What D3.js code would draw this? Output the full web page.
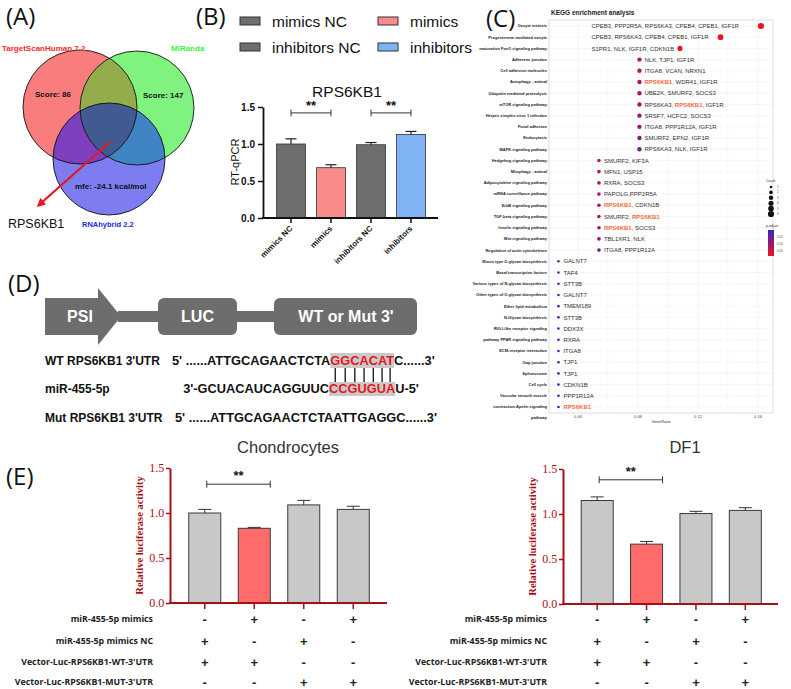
<!DOCTYPE html>
<html>
<head>
<meta charset="utf-8">
<script src="https://cdn.jsdelivr.net/npm/d3@7"></script>
<style>
body { margin: 0; background: #fff; }
text { font-family: "Liberation Sans", Arial, sans-serif; }
</style>
</head>
<body>
<script>
// ---------------- data ----------------
// (A) venn
const vennSets = ['TargetScanHuman 7.2', 'MiRanda', 'RNAhybrid 2.2'];
const vennScores = ['Score: 86', 'Score: 147', 'mfe: -24.1 kcal/mol'];
const vennTarget = 'RPS6KB1';

// (B) RT-qPCR
const qpcrGroups = ['mimics NC', 'mimics', 'inhibitors NC', 'inhibitors'];
const qpcrMean = [1.00, 0.68, 0.99, 1.13];
const qpcrErr = [0.07, 0.04, 0.03, 0.04];
const qpcrColors = ['#6e6e6e', '#f98b8b', '#6e6e6e', '#7fb3f3'];
const qpcrTicks = [0, 0.5, 1.0, 1.5];

// (C) KEGG
const keggPathways = [
  'Oocyte meiosis', 'Progesterone-mediated oocyte', 'maturation FoxO signaling pathway',
  'Adherens junction', 'Cell adhesion molecules', 'Autophagy - animal',
  'Ubiquitin mediated proteolysis', 'mTOR signaling pathway', 'Herpes simplex virus 1 infection',
  'Focal adhesion', 'Endocytosis', 'MAPK signaling pathway',
  'Hedgehog signaling pathway', 'Mitophagy - animal', 'Adipocytokine signaling pathway',
  'mRNA surveillance pathway', 'ErbB signaling pathway', 'TGF-beta signaling pathway',
  'Insulin signaling pathway', 'Wnt signaling pathway', 'Regulation of actin cytoskeleton',
  'Mucin type O-glycan biosynthesis', 'Basal transcription factors', 'Various types of N-glycan biosynthesis',
  'Other types of O-glycan biosynthesis', 'Ether lipid metabolism', 'N-Glycan biosynthesis',
  'RIG-I-like receptor signaling', 'pathway PPAR signaling pathway', 'ECM-receptor interaction',
  'Gap junction', 'Spliceosome', 'Cell cycle',
  'Vascular smooth muscle', 'contraction Apelin signaling'
];
const keggGenes = [
  'CPEB3, PPP2R5A, RPS6KA3, CPEB4, CPEB1, IGF1R', 'CPEB3, RPS6KA3, CPEB4, CPEB1, IGF1R', 'S1PR1, NLK, IGF1R, CDKN1B',
  'NLK, TJP1, IGF1R', 'ITGA8, VCAN, NRXN1', 'RPS6KB1, WDR41, IGF1R',
  'UBE2K, SMURF2, SOCS3', 'RPS6KA3, RPS6KB1, IGF1R', 'SRSF7, HCFC2, SOCS3',
  'ITGA8, PPP1R12A, IGF1R', 'SMURF2, EPN2, IGF1R', 'RPS6KA3, NLK, IGF1R',
  'SMURF2, KIF3A', 'MFN1, USP15', 'RXRA, SOCS3',
  'PAPOLG,PPP2R5A', 'RPS6KB1, CDKN1B', 'SMURF2, RPS6KB1',
  'RPS6KB1, SOCS3', 'TBL1XR1, NLK', 'ITGA8, PPP1R12A',
  'GALNT7', 'TAF4', 'STT3B', 'GALNT7', 'TMEM189', 'STT3B', 'DDX3X',
  'RXRA', 'ITGA8', 'TJP1', 'TJP1', 'CDKN1B', 'PPP1R12A', 'RPS6KB1'
];
const keggCount = [6, 5, 4, 3, 3, 3, 3, 3, 3, 3, 3, 3, 2, 2, 2, 2, 2, 2, 2, 2, 2,
  1, 1, 1, 1, 1, 1, 1, 1, 1, 1, 1, 1, 1, 1];
const keggRatio = [0.162, 0.135, 0.108, 0.081, 0.081, 0.081, 0.081, 0.081, 0.081, 0.081, 0.081, 0.081,
  0.054, 0.054, 0.054, 0.054, 0.054, 0.054, 0.054, 0.054, 0.054,
  0.027, 0.027, 0.027, 0.027, 0.027, 0.027, 0.027, 0.027, 0.027, 0.027, 0.027, 0.027, 0.027, 0.027];
const keggPadj = [0.01, 0.012, 0.015, 0.07, 0.075, 0.08, 0.085, 0.09, 0.095, 0.10, 0.115, 0.13,
  0.065, 0.07, 0.075, 0.08, 0.085, 0.09, 0.10, 0.12, 0.14,
  0.15, 0.155, 0.16, 0.165, 0.17, 0.175, 0.18, 0.185, 0.19, 0.19, 0.195, 0.2, 0.2, 0.2];
const keggTicks = [0.04, 0.08, 0.12, 0.16];
const keggCountLegend = [1, 2, 3, 4, 5, 6];
const keggPadjLegend = [0.05, 0.10, 0.15];

// (D) construct + sequences
const constructParts = ['PSI', 'LUC', "WT or Mut 3'"];
const seqNames = ["WT RPS6KB1 3'UTR", 'miR-455-5p', "Mut RPS6KB1 3'UTR"];
const wtSeq = ["5' ......ATTGCAGAACTCTA", 'GGCACAT', "C......3'"];
const mirSeq = ["3'-GCUACAUCAGGUUC", 'CCGUGUA', "U-5'"];
const mutSeq = "5' ......ATTGCAGAACTCTAATTGAGGC......3'";

// (E) luciferase
const lucRows = ['miR-455-5p mimics', 'miR-455-5p mimics NC', "Vector-Luc-RPS6KB1-WT-3'UTR", "Vector-Luc-RPS6KB1-MUT-3'UTR"];
const lucSigns = [['-', '+', '-', '+'], ['+', '-', '+', '-'], ['+', '+', '-', '-'], ['-', '-', '+', '+']];
const chondroMean = [1.00, 0.83, 1.09, 1.04];
const chondroErr = [0.04, 0.01, 0.05, 0.035];
const df1Mean = [1.15, 0.665, 1.005, 1.04];
const df1Err = [0.04, 0.03, 0.025, 0.03];
const lucColors = ['#c8c8c8', '#ff6b6b', '#c8c8c8', '#c8c8c8'];
const lucTicks = [0, 0.5, 1.0, 1.5];

// ---------------- svg ----------------
const svg = d3.select('body').append('svg').attr('width', 791).attr('height', 689);
const defs = svg.append('defs');

function panelLabel(t, x, y) {
  svg.append('text').attr('x', x).attr('y', y).text(t)
    .style('font-family', '"Open Sans", sans-serif').style('font-size', '24px').attr('fill', '#111');
}
panelLabel('(A)', 6, 25);
panelLabel('(B)', 196, 25);
panelLabel('(C)', 486, 27);
panelLabel('(D)', 8, 292);
panelLabel('(E)', 6, 485);

// ---------------- (A) venn ----------------
const vennCircles = [{ cx: 80, cy: 107, r: 57 }, { cx: 137, cy: 108, r: 57 }, { cx: 109, cy: 159, r: 56 }];
const vennFill = ['#fa7d7d', '#80f27f', '#7d7cf0'];
vennCircles.forEach((c, i) => {
  defs.append('clipPath').attr('id', 'vc' + i).append('circle').attr('cx', c.cx).attr('cy', c.cy).attr('r', c.r);
});
const gA = svg.append('g');
vennCircles.forEach((c, i) => gA.append('circle').attr('cx', c.cx).attr('cy', c.cy).attr('r', c.r).attr('fill', vennFill[i]));
function clipped(clipIdx, circIdx, fill) {
  gA.append('g').attr('clip-path', `url(#vc${clipIdx})`)
    .append('circle').attr('cx', vennCircles[circIdx].cx).attr('cy', vennCircles[circIdx].cy)
    .attr('r', vennCircles[circIdx].r).attr('fill', fill);
}
clipped(0, 1, '#93ad4c');
clipped(0, 2, '#7e3fbf');
clipped(1, 2, '#3f85c4');
gA.append('g').attr('clip-path', 'url(#vc0)').append('g').attr('clip-path', 'url(#vc1)')
  .append('circle').attr('cx', vennCircles[2].cx).attr('cy', vennCircles[2].cy).attr('r', vennCircles[2].r).attr('fill', '#415b90');
vennCircles.forEach(c => gA.append('circle').attr('cx', c.cx).attr('cy', c.cy).attr('r', c.r)
  .attr('fill', 'none').attr('stroke', '#111').attr('stroke-width', 0.9));

const vennTxt = (t, x, y, col, size) => gA.append('text').attr('x', x).attr('y', y).text(t)
  .attr('fill', col).style('font-size', size + 'px').style('font-weight', 'bold');
vennTxt(vennSets[0], 2, 51, '#f42a2a', 8);
vennTxt(vennSets[1], 171, 51, '#3ef03e', 8);
vennTxt(vennSets[2], 82, 227, '#2424e0', 7.5);
vennTxt(vennScores[0], 35, 97, '#111', 8);
vennTxt(vennScores[1], 143, 98, '#111', 8);
vennTxt(vennScores[2], 75, 189, '#111', 8);
gA.append('text').attr('x', 8).attr('y', 228).text(vennTarget).attr('fill', '#111').style('font-size', '12.5px');

defs.append('marker').attr('id', 'arrowR').attr('viewBox', '0 0 10 10').attr('refX', 5).attr('refY', 5)
  .attr('markerWidth', 4).attr('markerHeight', 4).attr('orient', 'auto')
  .append('path').attr('d', 'M0,0L10,5L0,10z').attr('fill', '#e8161c');
gA.append('line').attr('x1', 110).attr('y1', 142).attr('x2', 40).attr('y2', 204)
  .attr('stroke', '#e8161c').attr('stroke-width', 2.2).attr('marker-end', 'url(#arrowR)');

// ---------------- (B) RT-qPCR ----------------
const gB = svg.append('g');
const legB = [[0, 240, 27], [1, 378, 27], [2, 240, 53], [3, 378, 53]];
legB.forEach(([i, x, y]) => {
  gB.append('rect').attr('x', x).attr('y', y - 10).attr('width', 20).attr('height', 8)
    .attr('fill', qpcrColors[i]).attr('stroke', '#333').attr('stroke-width', 1);
  gB.append('text').attr('x', x + 32).attr('y', y).text(qpcrGroups[i]).style('font-size', '15.5px').attr('fill', '#111');
});
gB.append('text').attr('x', 347).attr('y', 97).attr('text-anchor', 'middle').text('RPS6KB1')
  .style('font-size', '15.5px').attr('fill', '#111');

const xB = d3.scaleBand().domain(d3.range(qpcrGroups.length)).range([271, 431]);
const yB = d3.scaleLinear().domain([0, 1.5]).range([218, 107]);
const bwB = 29;
gB.selectAll('.barB').data(qpcrMean).join('rect').attr('class', 'barB')
  .attr('x', (d, i) => xB(i) + xB.bandwidth() / 2 - bwB / 2).attr('width', bwB)
  .attr('y', d => yB(d)).attr('height', d => yB(0) - yB(d))
  .attr('fill', (d, i) => qpcrColors[i]).attr('stroke', '#333').attr('stroke-width', 0.8);
qpcrMean.forEach((m, i) => {
  const cx = xB(i) + xB.bandwidth() / 2;
  gB.append('line').attr('x1', cx).attr('x2', cx).attr('y1', yB(m)).attr('y2', yB(m + qpcrErr[i])).attr('stroke', '#222').attr('stroke-width', 1.2);
  gB.append('line').attr('x1', cx - 5.5).attr('x2', cx + 5.5).attr('y1', yB(m + qpcrErr[i])).attr('y2', yB(m + qpcrErr[i])).attr('stroke', '#222').attr('stroke-width', 1.2);
});
const axB = gB.append('g').attr('transform', 'translate(263,0)')
  .call(d3.axisLeft(yB).tickValues(qpcrTicks).tickFormat(d3.format('.1f')).tickSize(5).tickSizeOuter(0));
axB.select('.domain').attr('stroke', '#111').attr('stroke-width', 1.8);
axB.selectAll('.tick line').attr('stroke', '#111').attr('stroke-width', 1.5);
axB.selectAll('text').style('font-size', '10px').style('font-weight', 'bold').attr('fill', '#111')
  .style('font-family', '"Liberation Sans", Arial, sans-serif');
gB.append('line').attr('x1', 262).attr('x2', 438).attr('y1', 218).attr('y2', 218).attr('stroke', '#111').attr('stroke-width', 1.8);
qpcrGroups.forEach((g, i) => {
  const cx = xB(i) + xB.bandwidth() / 2;
  gB.append('line').attr('x1', cx).attr('x2', cx).attr('y1', 218).attr('y2', 223).attr('stroke', '#111').attr('stroke-width', 1.5);
  gB.append('text').attr('transform', `translate(${cx + 2},${229}) rotate(-45)`).attr('text-anchor', 'end')
    .text(g).style('font-size', '8px').style('font-weight', 'bold').attr('fill', '#111');
});
gB.append('text').attr('transform', 'translate(239,162) rotate(-90)').attr('text-anchor', 'middle')
  .text('RT-qPCR').style('font-size', '11px').attr('fill', '#111');
function sigBracket(g, x1, x2, y, starY, col) {
  g.append('line').attr('x1', x1).attr('x2', x2).attr('y1', y).attr('y2', y).attr('stroke', col).attr('stroke-width', 1);
  g.append('line').attr('x1', x1).attr('x2', x1).attr('y1', y - 3.5).attr('y2', y + 3.5).attr('stroke', col).attr('stroke-width', 1);
  g.append('line').attr('x1', x2).attr('x2', x2).attr('y1', y - 3.5).attr('y2', y + 3.5).attr('stroke', col).attr('stroke-width', 1);
  g.append('text').attr('x', (x1 + x2) / 2).attr('y', starY).attr('text-anchor', 'middle').text('**')
    .style('font-size', '13px').style('font-weight', 'bold').attr('fill', '#111');
}
sigBracket(gB, xB(0) + xB.bandwidth() / 2, xB(1) + xB.bandwidth() / 2, yB(1.42), yB(1.42) - 3, '#333');
sigBracket(gB, xB(2) + xB.bandwidth() / 2, xB(3) + xB.bandwidth() / 2, yB(1.42), yB(1.42) - 3, '#333');

// ---------------- (C) KEGG dot plot ----------------
const gC = svg.append('g');
const xC = d3.scaleLinear().domain([0.0207, 0.17]).range([549, 773]);
const yC = d3.scalePoint().domain(d3.range(keggPathways.length)).range([26, 407]);
const rC = d3.scaleSqrt().domain([1, 6]).range([1.3, 3.1]);
const colC = d3.scaleLinear().domain([0.01, 0.2]).range(['#ee1320', '#3a22c8']).interpolate(d3.interpolateRgb);

gC.append('text').attr('x', 551).attr('y', 15).text('KEGG enrichment analysis')
  .style('font-size', '6.5px').style('font-weight', 'bold').attr('fill', '#222');
gC.append('rect').attr('x', 549).attr('y', 20).attr('width', 224).attr('height', 393)
  .attr('fill', '#fff').attr('stroke', '#cfcfcf').attr('stroke-width', 0.7);
const minorC = [0.02, 0.06, 0.10, 0.14];
minorC.concat(keggTicks).forEach(t => {
  if (xC(t) < 549) return;
  gC.append('line').attr('x1', xC(t)).attr('x2', xC(t)).attr('y1', 20).attr('y2', 413)
    .attr('stroke', '#f0f0f0').attr('stroke-width', keggTicks.includes(t) ? 0.7 : 0.4);
});
keggPathways.forEach((p, i) => {
  gC.append('line').attr('x1', 549).attr('x2', 773).attr('y1', yC(i)).attr('y2', yC(i))
    .attr('stroke', '#f0f0f0').attr('stroke-width', 0.6);
  gC.append('text').attr('x', 547).attr('y', yC(i)).attr('dy', '0.35em').attr('text-anchor', 'end')
    .text(p).style('font-size', '4px').style('font-weight', 'bold').attr('fill', '#222');
});
gC.append('text').attr('x', 547).attr('y', 419).attr('text-anchor', 'end').text('pathway')
  .style('font-size', '4px').style('font-weight', 'bold').attr('fill', '#222');
gC.selectAll('.dotC').data(keggRatio).join('circle').attr('class', 'dotC')
  .attr('cx', d => xC(d)).attr('cy', (d, i) => yC(i))
  .attr('r', (d, i) => rC(keggCount[i])).attr('fill', (d, i) => colC(keggPadj[i]));
keggGenes.forEach((g, i) => {
  const tx = keggCount[i] >= 4 ? xC(0.049) : xC(keggRatio[i]) + 5;
  const t = gC.append('text').attr('x', tx).attr('y', yC(i)).attr('dy', '0.36em')
    .style('font-size', '6px').attr('fill', '#333');
  g.split(/(RPS6KB1)/).filter(s => s.length).forEach(s => {
    const ts = t.append('tspan').text(s);
    if (s === 'RPS6KB1') ts.attr('fill', '#f36a3c').style('font-weight', 'bold');
  });
});
keggTicks.forEach(t => {
  gC.append('text').attr('x', xC(t)).attr('y', 418).attr('text-anchor', 'middle').text(t.toFixed(2))
    .style('font-size', '4px').attr('fill', '#444');
});
gC.append('text').attr('x', 661).attr('y', 423).attr('text-anchor', 'middle').text('GeneRatio')
  .style('font-size', '4px').attr('fill', '#333');
// legends
gC.append('text').attr('x', 766).attr('y', 182).text('Count').style('font-size', '3.5px').attr('fill', '#333');
keggCountLegend.forEach((c, i) => {
  const cy = 187 + i * 5.4;
  gC.append('circle').attr('cx', 771).attr('cy', cy).attr('r', rC(c)).attr('fill', '#111');
  gC.append('text').attr('x', 777).attr('y', cy).attr('dy', '0.35em').text(c).style('font-size', '3px').attr('fill', '#444');
});
gC.append('text').attr('x', 766).attr('y', 227).text('p.adjust').style('font-size', '3.5px').attr('fill', '#333');
const grad = defs.append('linearGradient').attr('id', 'padjGrad').attr('x1', 0).attr('x2', 0).attr('y1', 0).attr('y2', 1);
grad.append('stop').attr('offset', '0%').attr('stop-color', colC(0.2));
grad.append('stop').attr('offset', '100%').attr('stop-color', colC(0.01));
gC.append('rect').attr('x', 768).attr('y', 230).attr('width', 6).attr('height', 26).attr('fill', 'url(#padjGrad)');
const yLeg = d3.scaleLinear().domain([0.01, 0.2]).range([256, 230]);
keggPadjLegend.forEach(v => {
  gC.append('text').attr('x', 777).attr('y', yLeg(v)).attr('dy', '0.35em').text(v.toFixed(2))
    .style('font-size', '3px').attr('fill', '#444');
});

// ---------------- (D) construct + sequences ----------------
const gD = svg.append('g');
const boxCol = '#6d6d6d';
gD.append('path').attr('d', 'M45,298 L98,298 L98,288 L121,316.5 L98,345 L98,335 L45,335 Z').attr('fill', boxCol);
gD.append('rect').attr('x', 118).attr('y', 311).attr('width', 160).attr('height', 11).attr('fill', boxCol);
gD.append('rect').attr('x', 158).attr('y', 298).attr('width', 79).attr('height', 37).attr('rx', 6).attr('fill', boxCol);
gD.append('rect').attr('x', 274).attr('y', 298).attr('width', 143).attr('height', 37).attr('rx', 6).attr('fill', boxCol);
[[80, 0], [197.5, 1], [346, 2]].forEach(([x, i]) => {
  gD.append('text').attr('x', x).attr('y', 322).attr('text-anchor', 'middle').text(constructParts[i])
    .attr('fill', '#fff').style('font-size', '16px').style('font-weight', 'bold');
});
const seqBase = [365, 393, 422];
seqNames.forEach((n, i) => {
  gD.append('text').attr('x', 45).attr('y', seqBase[i]).text(n)
    .style('font-size', '12px').style('font-weight', 'bold').attr('fill', '#111');
});
const seqFont = 12.8;
function seqText(parts, x, y) {
  const t = gD.append('text').attr('x', x).attr('y', y)
    .style('font-size', seqFont + 'px').style('font-weight', 'bold').attr('fill', '#111');
  parts.forEach((p, k) => {
    const ts = t.append('tspan').text(p);
    if (k === 1) ts.attr('fill', '#e8161c');
  });
  return t;
}
const bgLayer = gD.insert('g', ':first-child');
const wt = seqText(wtSeq, 172, seqBase[0]);
const wtNode = wt.node();
const hitStart = 172 + wtNode.getSubStringLength(0, wtSeq[0].length);
const hitW = wtNode.getSubStringLength(wtSeq[0].length, wtSeq[1].length);
bgLayer.append('rect').attr('x', hitStart).attr('y', seqBase[0] - 12).attr('width', hitW).attr('height', 15).attr('fill', '#c9c9c9');
const mir = seqText(mirSeq, 0, seqBase[1]);
const mirPre = mir.node().getSubStringLength(0, mirSeq[0].length);
const mirHitW = mir.node().getSubStringLength(mirSeq[0].length, mirSeq[1].length);
const mirX = hitStart - mirPre + (hitW - mirHitW) / 2;
mir.attr('x', mirX);
bgLayer.append('rect').attr('x', mirX + mirPre).attr('y', seqBase[1] - 11).attr('width', mirHitW).attr('height', 14).attr('fill', '#c9c9c9');
d3.range(wtSeq[1].length).forEach(k => {
  const idx = wtSeq[0].length + k;
  const cx = 172 + wtNode.getSubStringLength(0, idx) + wtNode.getSubStringLength(idx, 1) / 2;
  gD.append('line').attr('x1', cx).attr('x2', cx).attr('y1', 368).attr('y2', 382).attr('stroke', '#111').attr('stroke-width', 1.3);
});
seqText([mutSeq], 175, seqBase[2]);

// ---------------- (E) luciferase ----------------
function lucChart(o) {
  const g = svg.append('g');
  const red = '#a80f14';
  const x = d3.scaleBand().domain(d3.range(o.mean.length)).range(o.band);
  const y = d3.scaleLinear().domain([0, 1.5]).range([o.yBottom, o.yBottom - 135]);
  const bw = 32;
  const cx = i => x(i) + x.bandwidth() / 2;
  g.append('text').attr('x', o.titleX).attr('y', 453).attr('text-anchor', 'middle').text(o.title)
    .style('font-size', '16.5px').attr('fill', '#333');
  g.selectAll('rect').data(o.mean).join('rect')
    .attr('x', (d, i) => cx(i) - bw / 2).attr('width', bw)
    .attr('y', d => y(d)).attr('height', d => y(0) - y(d))
    .attr('fill', (d, i) => lucColors[i]).attr('stroke', '#3a3a3a').attr('stroke-width', 1);
  o.mean.forEach((m, i) => {
    g.append('line').attr('x1', cx(i)).attr('x2', cx(i)).attr('y1', y(m)).attr('y2', y(m + o.err[i])).attr('stroke', '#333').attr('stroke-width', 1);
    g.append('line').attr('x1', cx(i) - 6.5).attr('x2', cx(i) + 6.5).attr('y1', y(m + o.err[i])).attr('y2', y(m + o.err[i])).attr('stroke', '#333').attr('stroke-width', 1);
  });
  const ay = g.append('g').attr('transform', `translate(${o.axisX},0)`)
    .call(d3.axisLeft(y).tickValues(lucTicks).tickFormat(d3.format('.1f')).tickSize(4).tickSizeOuter(0));
  ay.select('.domain').attr('stroke', red).attr('stroke-width', 2);
  ay.selectAll('.tick line').attr('stroke', red).attr('stroke-width', 1.5);
  ay.selectAll('text').attr('fill', red).style('font-size', '12px')
    .style('font-family', '"Liberation Serif", "Times New Roman", serif').attr('dx', '0.1em');
  g.append('line').attr('x1', o.axisX - 1).attr('x2', o.axisEnd).attr('y1', y(0)).attr('y2', y(0)).attr('stroke', red).attr('stroke-width', 2);
  o.mean.forEach((m, i) => {
    g.append('line').attr('x1', cx(i)).attr('x2', cx(i)).attr('y1', y(0)).attr('y2', y(0) + 6).attr('stroke', red).attr('stroke-width', 1.5);
  });
  g.append('text').attr('transform', `translate(${o.ylabX},${y(0.75)}) rotate(-90)`).attr('text-anchor', 'middle')
    .text('Relative luciferase activity').attr('fill', red)
    .style('font-family', '"Liberation Serif", "Times New Roman", serif').style('font-size', '10.5px').style('font-weight', 'bold');
  // significance
  const by = y(o.sigY);
  const bx1 = cx(0) + 2, bx2 = x(1) + x.bandwidth() / 2 + bw / 2;
  g.append('line').attr('x1', bx1).attr('x2', bx2).attr('y1', by).attr('y2', by).attr('stroke', '#333').attr('stroke-width', 1);
  [bx1, bx2].forEach(bx => g.append('line').attr('x1', bx).attr('x2', bx).attr('y1', by - 3.5).attr('y2', by + 3.5).attr('stroke', '#333').attr('stroke-width', 1));
  g.append('text').attr('x', (bx1 + bx2) / 2).attr('y', by - 4).attr('text-anchor', 'middle').text('**')
    .style('font-size', '13px').style('font-weight', 'bold').attr('fill', '#111');
  // condition table
  const rowY = [619, 641, 662, 682];
  lucRows.forEach((r, k) => {
    g.append('text').attr('x', o.labelX).attr('y', rowY[k]).attr('dy', '0.35em').attr('text-anchor', 'end').text(r)
      .style('font-family', '"Open Sans", "Noto Sans", sans-serif').style('font-size', '8.8px').style('font-weight', 'bold').attr('fill', '#222');
    lucSigns[k].forEach((s, i) => {
      g.append('text').attr('x', cx(i)).attr('y', rowY[k] + 4.5).attr('text-anchor', 'middle').text(s)
        .style('font-size', '13px').style('font-weight', 'bold').attr('fill', '#222');
    });
  });
}
lucChart({ title: 'Chondrocytes', titleX: 288, mean: chondroMean, err: chondroErr, band: [180, 378],
  yBottom: 603, axisX: 170, axisEnd: 387, ylabX: 143, labelX: 153, sigY: 1.32 });
lucChart({ title: 'DF1', titleX: 685, mean: df1Mean, err: df1Err, band: [572.5, 770],
  yBottom: 604, axisX: 563, axisEnd: 778, ylabX: 536, labelX: 547, sigY: 1.38 });
</script>
</body>
</html>
